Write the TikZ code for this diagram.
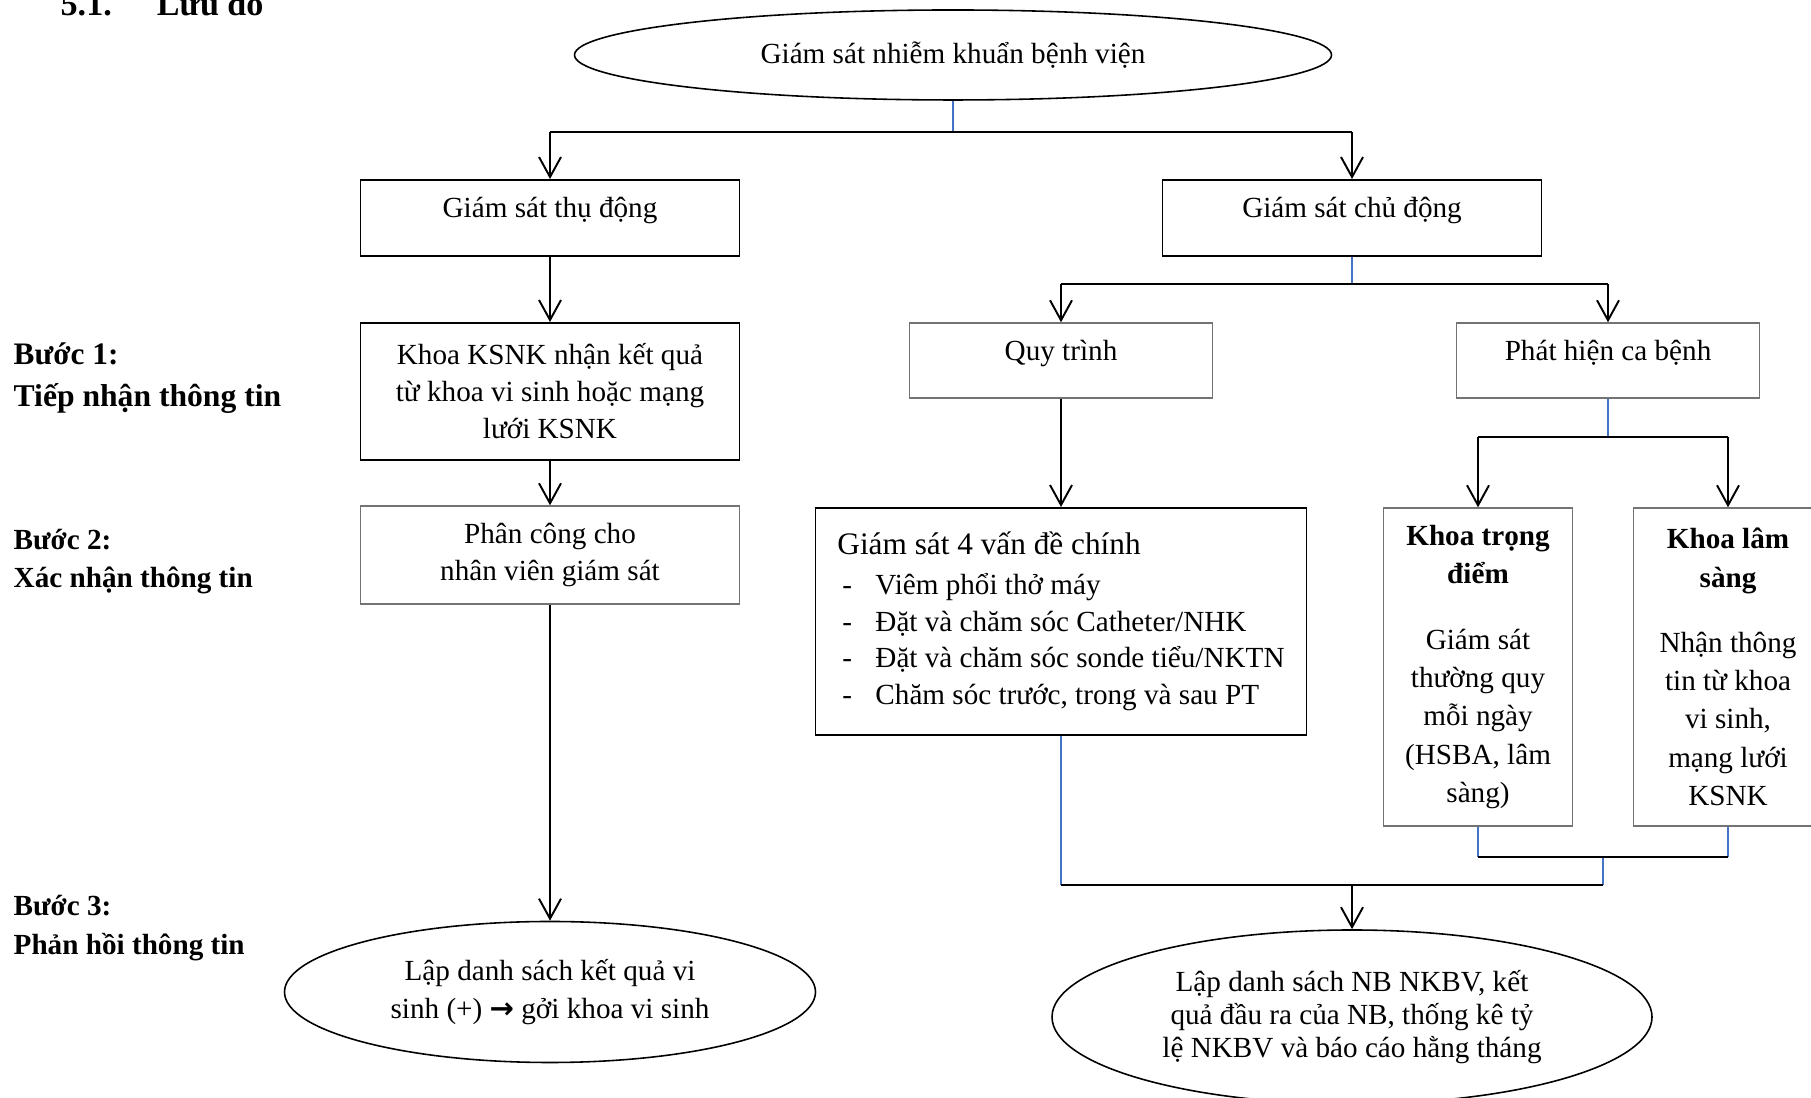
\documentclass[tikz,border=0pt]{standalone}
\usepackage{fontspec}
\setmainfont{Liberation Serif}
\newfontfamily\symfont{DejaVu Sans}
\usetikzlibrary{arrows.meta,shapes.geometric}
\definecolor{lineblue}{HTML}{4472C4}
\newcommand{\gach}{\hspace*{0.05cm}\makebox[0.33cm][l]{-}}
\tikzset{
  box/.style={draw, line width=0.55pt, inner sep=1pt, align=center},
  thinbox/.style={draw=black!55, line width=0.4pt, inner sep=1pt, align=center},
  oneline/.style={text height=2mm, text depth=2mm},
  oval/.style={draw, ellipse, line width=0.45pt, inner sep=0pt, align=center},
  conn/.style={line width=0.55pt},
  arr/.style={line width=0.55pt, -{Straight Barb[length=2mm,width=2.2mm]}},
  bl/.style={draw=lineblue, line width=0.4pt},
  steplabel/.style={font=\fontsize{8.3}{10}\selectfont\bfseries, anchor=base west, inner sep=0pt},
}
\begin{document}
\begin{tikzpicture}[font=\fontsize{8.3}{10.5}\selectfont]
    \useasboundingbox (0,0) rectangle (18.11,10.98);
    \node[font=\fontsize{9.7}{11}\selectfont\bfseries, anchor=base west, inner sep=0pt] (title) at (0.60,10.82) {5.1.\hspace{0.45cm}Lưu đồ};
    % left column
    \node[steplabel, font=\fontsize{8.9}{10}\selectfont\bfseries] (b1) at (0.13,7.33) {Bước 1:};
    \node[steplabel, font=\fontsize{9.0}{10}\selectfont\bfseries] (b1t) at (0.13,6.91) {Tiếp nhận thông tin};
    \node[steplabel] (b2) at (0.13,5.48) {Bước 2:};
    \node[steplabel] (b2t) at (0.13,5.10) {Xác nhận thông tin};
    \node[steplabel] (b3) at (0.13,1.82) {Bước 3:};
    \node[steplabel] (b3t) at (0.13,1.43) {Phản hồi thông tin};
    % boxes
    \node[oval, minimum width=7.57cm, minimum height=0.90cm] (gs) at (9.53,10.43) {Giám sát nhiễm khuẩn bệnh viện};
    \node[box, oneline, minimum width=3.79cm, minimum height=0.76cm] (thudong) at (5.50,8.80) {Giám sát thụ động};
    \node[box, oneline, minimum width=3.79cm, minimum height=0.76cm] (chudong) at (13.52,8.80) {Giám sát chủ động};
    \node[box, minimum width=3.79cm, minimum height=1.37cm] (ksnk) at (5.50,7.065) {Khoa KSNK nhận kết quả\\từ khoa vi sinh hoặc mạng\\lưới KSNK};
    \node[thinbox, minimum width=3.79cm, minimum height=0.98cm, font=\fontsize{8.3}{10.8}\selectfont] (phancong) at (5.50,5.43) {Phân công cho\\nhân viên giám sát};
    \node[oval, minimum width=5.31cm, minimum height=1.41cm, font=\fontsize{8.3}{10.7}\selectfont] (dsvisinh) at (5.50,1.06) {Lập danh sách kết quả vi\\sinh (+) {\symfont\bfseries →} gởi khoa vi sinh};
    \node[thinbox, oneline, minimum width=3.03cm, minimum height=0.75cm] (quytrinh) at (10.61,7.375) {Quy trình};
    \node[thinbox, oneline, minimum width=3.03cm, minimum height=0.75cm] (phathien) at (16.08,7.375) {Phát hiện ca bệnh};
    \node[box, align=left, minimum width=4.91cm, minimum height=2.27cm, font=\fontsize{8.3}{10.4}\selectfont] (vande) at (10.61,4.765) {{\fontsize{8.9}{10.4}\selectfont Giám sát 4 vấn đề chính}\\[1pt]
      \gach Viêm phổi thở máy\\
      \gach Đặt và chăm sóc Catheter/NHK\\
      \gach Đặt và chăm sóc sonde tiểu/NKTN\\
      \gach Chăm sóc trước, trong và sau PT};
    \node[thinbox, minimum width=1.89cm, minimum height=3.18cm, font=\fontsize{8.3}{10.9}\selectfont] (trongdiem) at (14.78,4.31) {\textbf{Khoa trọng}\\\textbf{điểm}\\[0.27cm]Giám sát\\thường quy\\mỗi ngày\\(HSBA, lâm\\sàng)};
    \node[thinbox, minimum width=1.89cm, minimum height=3.18cm, font=\fontsize{8.3}{10.9}\selectfont] (lamsang) at (17.28,4.31) {\textbf{Khoa lâm}\\\textbf{sàng}\\[0.27cm]Nhận thông\\tin từ khoa\\vi sinh,\\mạng lưới\\KSNK};
    \node[oval, minimum width=6.0cm, minimum height=1.74cm, font=\fontsize{8.3}{9.4}\selectfont] (dsnkbv) at (13.52,0.81) {Lập danh sách NB NKBV, kết\\quả đầu ra của NB, thống kê tỷ\\lệ NKBV và báo cáo hằng tháng};
    % junctions
    \coordinate (j0) at (9.53,9.66);
    \coordinate (j0l) at (5.50,9.66);
    \coordinate (j0r) at (13.52,9.66);
    \coordinate (j1) at (13.52,8.14);
    \coordinate (j1l) at (10.61,8.14);
    \coordinate (j1r) at (16.08,8.14);
    \coordinate (j2) at (16.08,6.61);
    \coordinate (j2l) at (14.78,6.61);
    \coordinate (j2r) at (17.28,6.61);
    \coordinate (j3) at (16.03,2.41);
    \coordinate (j3l) at (14.78,2.41);
    \coordinate (j3r) at (17.28,2.41);
    \coordinate (j4) at (16.03,2.13);
    \coordinate (j4l) at (10.61,2.13);
    \coordinate (j4m) at (13.52,2.13);
    % connectors
    \draw[bl] (gs.south) to (j0);
    \draw[conn] (j0l) to (j0r);
    \draw[arr] (j0l) to (thudong);
    \draw[arr] (j0r) to (chudong);
    \draw[arr] (thudong) to (ksnk);
    \draw[arr] (ksnk) to (phancong);
    \draw[arr] (phancong) to (dsvisinh);
    \draw[bl] (chudong) to (j1);
    \draw[conn] (j1l) to (j1r);
    \draw[arr] (j1l) to (quytrinh);
    \draw[arr] (j1r) to (phathien);
    \draw[arr] (quytrinh) to (vande);
    \draw[bl] (phathien) to (j2);
    \draw[conn] (j2l) to (j2r);
    \draw[arr] (j2l) to (trongdiem);
    \draw[arr] (j2r) to (lamsang);
    \draw[bl] (trongdiem) to (j3l);
    \draw[bl] (lamsang) to (j3r);
    \draw[bl] (j3) to (j4);
    \draw[bl] (vande) to (j4l);
    \draw[conn] (j3l) to (j3r);
    \draw[conn] (j4l) to (j4);
    \draw[arr] (j4m) to (dsnkbv);
  \end{tikzpicture}
\end{document}
